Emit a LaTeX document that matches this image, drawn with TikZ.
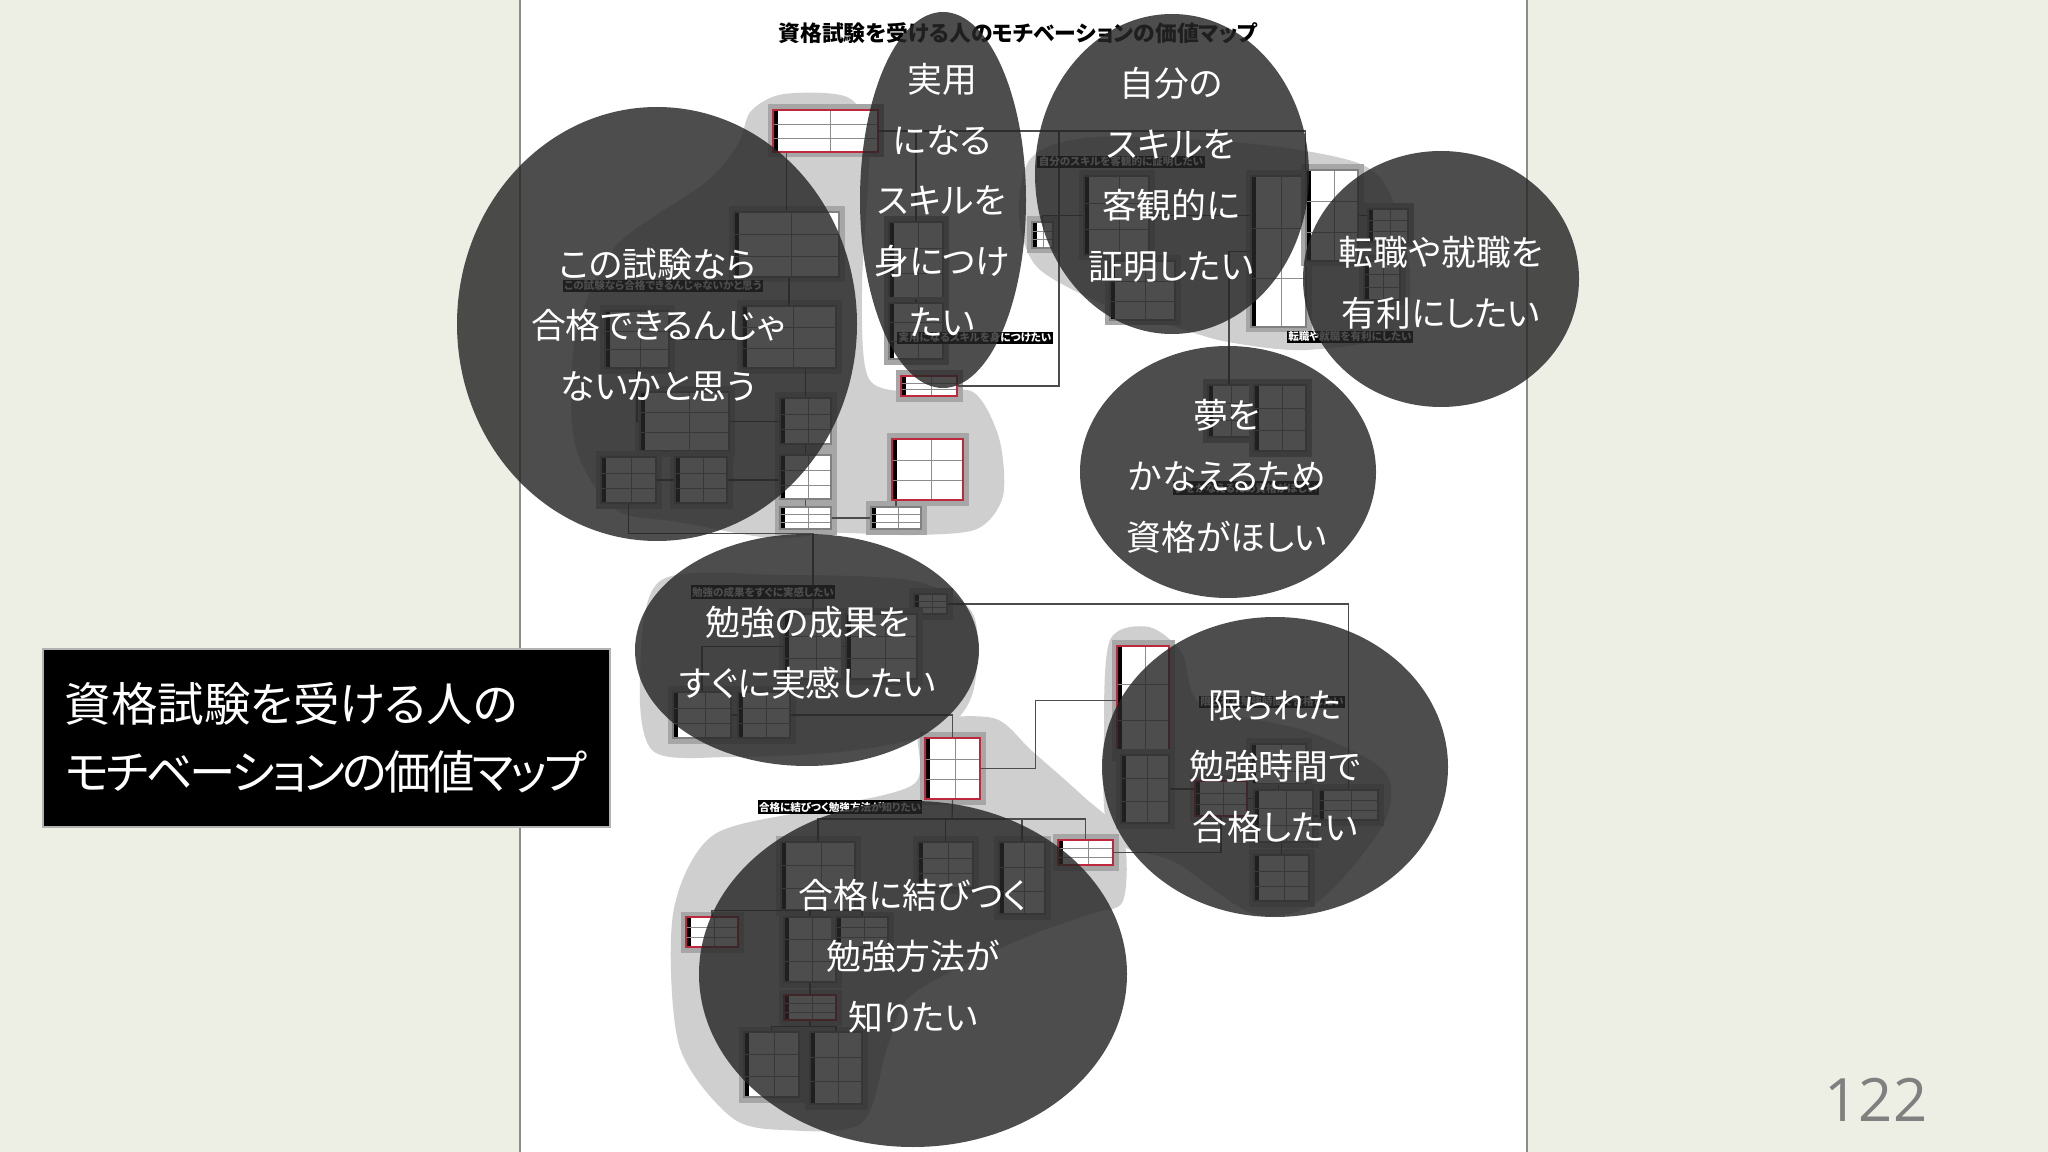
\documentclass[tikz,border=0pt]{standalone}
\usepackage{fontspec}
\setmainfont{Noto Sans CJK JP}[RawFeature=+palt]
\newfontfamily\numfont{Open Sans}
\usetikzlibrary{calc,fit}
\definecolor{slidebg}{RGB}{238,239,228}
\definecolor{bubblegray}{RGB}{38,38,38}
\definecolor{cardred}{RGB}{190,40,60}
\tikzset{
  px/.style={x=0.01cm, y=-0.01cm},
  blob/.style={fill=black!19},
  wire/.style={draw=black!70, line width=0.35pt},
  card/.style={draw=black!50, fill=white, line width=0.3pt, inner sep=0pt,
    preaction={draw=black!35, line width=1.1mm, rounded corners=0.5mm},
    path picture={
      \fill[black] (path picture bounding box.north west) rectangle ([xshift=0.5mm]path picture bounding box.south west);
      \draw[black!45, line width=0.2pt]
        ($(path picture bounding box.north west)!0.35!(path picture bounding box.south west)$) -- ($(path picture bounding box.north east)!0.35!(path picture bounding box.south east)$)
        ($(path picture bounding box.north west)!0.68!(path picture bounding box.south west)$) -- ($(path picture bounding box.north east)!0.68!(path picture bounding box.south east)$)
        ($(path picture bounding box.north west)!0.55!(path picture bounding box.north east)$) -- ($(path picture bounding box.south west)!0.55!(path picture bounding box.south east)$);
    }},
  redcard/.style={card, draw=cardred},
  tag/.style={fill=black, text=white, inner sep=0.4pt, font=\fontsize{3}{3.5}\selectfont\bfseries},
  bubble/.style={fill=bubblegray, fill opacity=0.82},
  bubbletext/.style={text=white, align=center, inner sep=0pt, font=\fontsize{9.9}{17.3}\selectfont},
}

\begin{document}
\begin{tikzpicture}[px]
  \useasboundingbox (0,0) rectangle (2048,1152);
  \fill[slidebg] (0,0) rectangle (2048,1152);

  % page with the map
  \fill[white] (520,0) rectangle (1527,1152);
  \draw[black!45, line width=0.4pt] (520,0) -- (520,1152) (1527,0) -- (1527,1152);
  \node[font=\fontsize{6.2}{6.5}\selectfont\bfseries] (maptitle) at (1018,33) {資格試験を受ける人のモチベーションの価値マップ};

  % groups
  \fill[blob] plot[smooth cycle] coordinates {(751,111) (784,94) (849,98) (869,144) (862,287) (869,379) (921,392) (973,392) (999,438) (1003,496) (977,529) (914,535) (836,533) (771,538) (679,522) (614,509) (575,444) (575,340) (614,248) (705,183) (738,144)};
  \fill[blob] plot[smooth cycle] coordinates {(1032,157) (1097,137) (1254,144) (1358,163) (1391,196) (1410,274) (1397,333) (1306,350) (1228,342) (1175,327) (1110,307) (1038,268) (1019,215)};
  \fill[blob] plot[smooth cycle] coordinates {(660,581) (784,575) (914,581) (973,614) (973,692) (940,731) (849,751) (731,757) (653,751) (640,679)};
  \fill[blob] plot[smooth cycle] coordinates {(921,725) (993,718) (1032,751) (1084,797) (1123,836) (1123,901) (1090,914) (1019,940) (914,993) (888,1045) (862,1123) (784,1130) (731,1117) (679,1045) (673,914) (712,836) (810,810) (914,784)};
  \fill[blob] plot[smooth cycle] coordinates {(1110,640) (1149,627) (1182,653) (1202,705) (1306,731) (1384,771) (1384,823) (1319,901) (1254,914) (1175,862) (1110,836) (1104,731)};

  % cards
  \node[redcard, fit={(773,110) (878,152)}] (a1) {};
  \node[card, fit={(734,212) (839,277)}] (a2) {};
  \node[card, fit={(605,311) (669,368)}] (a3) {};
  \node[card, fit={(742,306) (836,368)}] (a4) {};
  \node[card, fit={(640,392) (729,451)}] (a5) {};
  \node[card, fit={(601,457) (656,503)}] (a6) {};
  \node[card, fit={(675,457) (727,503)}] (a7) {};
  \node[card, fit={(780,398) (831,444)}] (a8) {};
  \node[card, fit={(780,455) (831,499)}] (a9) {};
  \node[card, fit={(780,507) (831,529)}] (a10) {};
  \node[card, fit={(871,507) (921,529)}] (a11) {};
  \node[redcard, fit={(892,439) (963,500)}] (a12) {};
  \node[redcard, fit={(901,376) (957,396)}] (a13) {};
  \node[card, fit={(889,222) (943,298)}] (b1) {};
  \node[card, fit={(889,303) (943,359)}] (b2) {};
  \node[card, fit={(1084,176) (1149,255)}] (c1) {};
  \node[card, fit={(1032,222) (1053,248)}] (c2) {};
  \node[card, fit={(1110,261) (1175,320)}] (c3) {};
  \node[card, fit={(1251,176) (1306,327)}] (c4) {};
  \node[card, fit={(1306,170) (1358,261)}] (c5) {};
  \node[card, fit={(1368,209) (1408,242)}] (c6) {};
  \node[card, fit={(1364,261) (1400,300)}] (c7) {};
  \node[card, fit={(1208,385) (1250,437)}] (d1) {};
  \node[card, fit={(1254,385) (1306,451)}] (d2) {};
  \node[card, fit={(914,594) (947,614)}] (e1) {};
  \node[card, fit={(784,614) (842,679)}] (e2) {};
  \node[card, fit={(846,614) (917,679)}] (e3) {};
  \node[card, fit={(673,692) (731,738)}] (e4) {};
  \node[card, fit={(738,692) (790,738)}] (e5) {};
  \node[redcard, fit={(925,738) (980,799)}] (f1) {};
  \node[redcard, fit={(1117,646) (1169,755)}] (g1) {};
  \node[card, fit={(1121,755) (1169,823)}] (g2) {};
  \node[card, fit={(1251,744) (1306,784)}] (g3) {};
  \node[card, fit={(1319,790) (1378,820)}] (g4) {};
  \node[card, fit={(1254,790) (1313,842)}] (g5) {};
  \node[card, fit={(1254,855) (1309,901)}] (g6) {};
  \node[redcard, fit={(1195,781) (1247,816)}] (g7) {};
  \node[redcard, fit={(1058,840) (1113,865)}] (g8) {};
  \node[card, fit={(781,842) (855,910)}] (h1) {};
  \node[card, fit={(918,842) (973,888)}] (h2) {};
  \node[card, fit={(999,842) (1045,914)}] (h3) {};
  \node[redcard, fit={(686,917) (738,947)}] (h4) {};
  \node[card, fit={(784,917) (836,982)}] (h5) {};
  \node[card, fit={(836,917) (888,947)}] (h6) {};
  \node[redcard, fit={(784,995) (836,1020)}] (h7) {};
  \node[card, fit={(744,1032) (799,1097)}] (h8) {};
  \node[card, fit={(810,1032) (862,1104)}] (h9) {};

  % links
  \coordinate (jtop) at (1059,131);
  \coordinate (fbar) at (952,819);
  \draw[wire] (a1.east) -| (c5.north west);
  \draw[wire] (a13.east) -| (jtop);
  \draw[wire] (a2.north) -- (a2.north |- a1.south);
  \draw[wire] (a4.north) -- (a4.north |- a2.south);
  \draw[wire] (a3.east) -- (a3.east -| a4.west);
  \draw[wire] (a3.south) |- (a5.west);
  \draw[wire] (a6.east) -- (a7.west);
  \draw[wire] (a8.north) -- (a8.north |- a4.south);
  \draw[wire] (a5.east) -- (a5.east -| a8.west);
  \draw[wire] (a8.south) -- (a9.north);
  \draw[wire] (a9.south) -- (a10.north);
  \draw[wire] (a10.east) -- (a11.west);
  \draw[wire] (a11.north) -- (a11.north |- a12.south);
  \draw[wire] (a7.east) -- (a7.east -| a9.west);
  \draw[wire] (a6.south) -- ++(0,30) -| (e2.north);
  \draw[wire] (b1.south) -- (b2.north);
  \draw[wire] (b1.north) -- (b1.north |- jtop);
  \draw[wire] (c1.west) -| (c2.north);
  \draw[wire] (c1.east) -- (c1.east -| c4.west);
  \draw[wire] (c3.north) -- (c3.north |- c1.south);
  \draw[wire] (c5.east) -- (c5.east -| c6.west);
  \draw[wire] (c7.north) -- (c7.north |- c6.south);
  \draw[wire] (d1.north) |- (c4.west);
  \draw[wire] (e1.east) -| (g4.north);
  \draw[wire] (e2.east) -- (e2.east -| e3.west);
  \draw[wire] (e4.north) |- (e2.west);
  \draw[wire] (e4.east) -- (e4.east -| e5.west);
  \draw[wire] (e5.east) -| (f1.north);
  \draw[wire] (f1.south) -- (fbar);
  \draw[wire] (fbar) -| (h1.north);
  \draw[wire] (fbar) -| (h2.north);
  \draw[wire] (fbar) -| (h3.north);
  \draw[wire] (fbar) -| (g8.north);
  \draw[wire] (f1.east) -- ++(55,0) |- (g1.west);
  \draw[wire] (g2.east) -- (g2.east -| g7.west);
  \draw[wire] (g7.east) -- (g7.east -| g5.west);
  \draw[wire] (g6.north) -- (g6.north |- g5.south);
  \draw[wire] (g5.east) -- (g5.east -| g4.west);
  \draw[wire] (g3.south) -- (g3.south |- g5.north);
  \draw[wire] (g8.east) -| (g7.south);
  \draw[wire] (h5.north) -- (h5.north |- h1.south);
  \draw[wire] (h4.north) -- ++(0,-6) -| (h6.north);
  \draw[wire] (h5.south) -- (h7.north);
  \draw[wire] (h7.south) -- ++(0,6) -| (h8.north);
  \draw[wire] (h7.south) -- ++(0,6) -| (h9.north);

  % group titles
  \node[tag] (tag1) at (663,286) {この試験なら合格できるんじゃないかと思う};
  \node[tag] (tag2) at (975,338) {実用になるスキルを身につけたい};
  \node[tag] (tag3) at (1121,162) {自分のスキルを客観的に証明したい};
  \node[tag] (tag4) at (1350,337) {転職や就職を有利にしたい};
  \node[tag] (tag5) at (1246,488) {夢をかなえるため資格がほしい};
  \node[tag] (tag6) at (763,592) {勉強の成果をすぐに実感したい};
  \node[tag] (tag7) at (1272,702) {限られた勉強時間で合格したい};
  \node[tag] (tag8) at (840,807) {合格に結びつく勉強方法が知りたい};

  % motivation bubbles
  \fill[bubble] (657,324) ellipse [x radius=200, y radius=217];
  \fill[bubble] (943,200) ellipse [x radius=83, y radius=188];
  \fill[bubble] (1172,174) ellipse [x radius=137, y radius=160];
  \fill[bubble] (1441,279) ellipse [x radius=138, y radius=128];
  \fill[bubble] (1228,472) ellipse [x radius=148, y radius=126];
  \fill[bubble] (807,650) ellipse [x radius=172, y radius=116];
  \fill[bubble] (1275,767) ellipse [x radius=173, y radius=150];
  \fill[bubble] (913,974) ellipse [x radius=214, y radius=173];
  \node[bubbletext] (want1) at (658,325) {この試験なら\\合格できるんじゃ\\ないかと思う};
  \node[bubbletext] (want2) at (942,200) {実用\\になる\\スキルを\\身につけ\\たい};
  \node[bubbletext] (want3) at (1171,175) {自分の\\スキルを\\客観的に\\証明したい};
  \node[bubbletext] (want4) at (1441,283) {転職や就職を\\有利にしたい};
  \node[bubbletext] (want5) at (1227,476) {夢を\\かなえるため\\資格がほしい};
  \node[bubbletext] (want6) at (808,653) {勉強の成果を\\すぐに実感したい};
  \node[bubbletext] (want7) at (1275,767) {限られた\\勉強時間で\\合格したい};
  \node[bubbletext] (want8) at (913,956) {合格に結びつく\\勉強方法が\\知りたい};

  % slide title and number
  \node[fill=black, draw=black!30, line width=0.6pt, text=white, align=left,
    minimum width=5.67cm, minimum height=1.78cm, inner xsep=0.22cm, text width=5.23cm,
    font=\fontsize{13.2}{19.3}\selectfont] (slidetitle) at (326.5,738) {資格試験を受ける人の\\{\addfontfeatures{LetterSpace=-6}モチベーションの価値マップ}};
  \node[text=black!50, font=\numfont\fontsize{17}{20}\selectfont] (pagenum) at (1876,1100) {122};
\end{tikzpicture}
\end{document}
